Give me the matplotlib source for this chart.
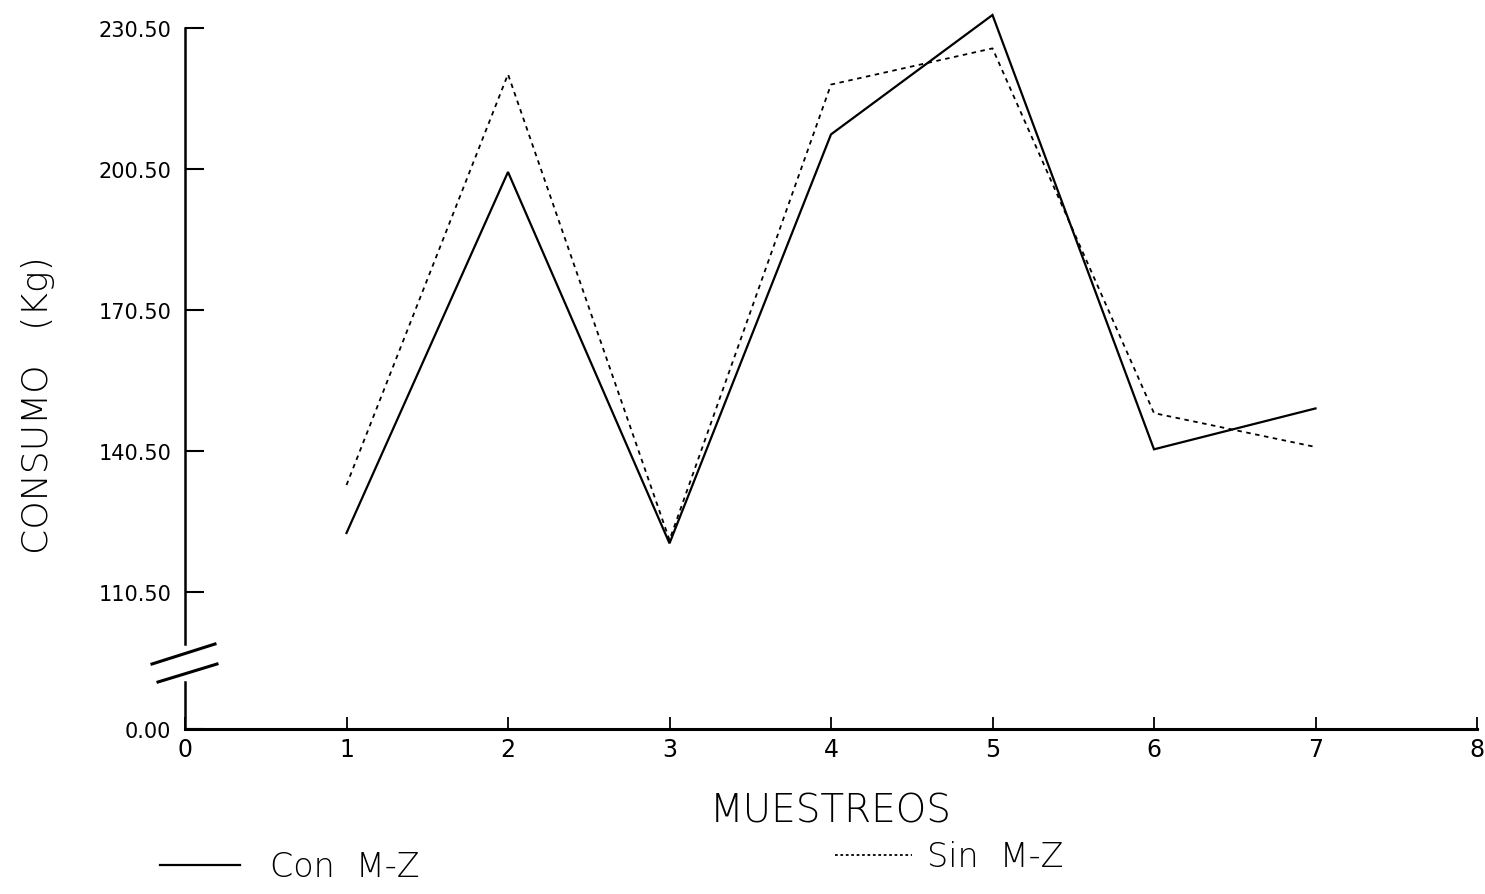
import numpy as np
import matplotlib
matplotlib.use("Agg")
import matplotlib.pyplot as plt
from matplotlib.lines import Line2D

# ---- data ----
muestreos = [1, 2, 3, 4, 5, 6, 7]
con_mz = [123.1, 199.9, 120.9, 207.9, 233.3, 140.9, 149.6]
sin_mz = [133.3, 220.7, 121.6, 218.5, 226.2, 148.6, 141.4]
ytick_vals = [0.0, 110.5, 140.5, 170.5, 200.5, 230.5]
ytick_labels = ["0.00", "110.50", "140.50", "170.50", "200.50", "230.50"]
xtick_vals = [0, 1, 2, 3, 4, 5, 6, 7, 8]
xtick_labels = ["0", "1", "2", "3", "4", "5", "6", "7", "8"]

# broken-axis scale: 0..110.5 compressed
BRK = 110.5
LOW = 29.1


def fwd(y):
    y = np.asarray(y, dtype=float)
    return np.where(y >= BRK, y - BRK + LOW, y * LOW / BRK)


def inv(g):
    g = np.asarray(g, dtype=float)
    return np.where(g >= LOW, g - LOW + BRK, g * BRK / LOW)


W, H = 1485, 895
fig = plt.figure(figsize=(W / 100, H / 100), dpi=100)
x0, x1 = 185, 1477
ytop, ybot = 8, 730
ax = fig.add_axes([x0 / W, 1 - ybot / H, (x1 - x0) / W, (ybot - ytop) / H])
ax.set_yscale("function", functions=(fwd, inv))
ax.set_xlim(0, 8)
ax.set_ylim(0, 235.0)

ax.plot(muestreos, con_mz, color="black", lw=1.6, solid_joinstyle="miter", clip_on=False)
ax.plot(muestreos, sin_mz, color="black", lw=1.3, linestyle=(0, (2.5, 2.5)), clip_on=False)

for s in ["top", "right", "left"]:
    ax.spines[s].set_visible(False)
ax.spines["bottom"].set_linewidth(2.2)

# left axis with break
ax.plot([0, 0], [0, 38], color="black", lw=1.8, clip_on=False)
ax.plot([0, 0], [69, 230.5], color="black", lw=1.8, clip_on=False)


def ax_pt(px, py):
    return ((px - x0) / (x1 - x0), (ybot - py) / (ybot - ytop))


for (pa, pb) in [((152, 665), (215, 645)), ((158, 683), (217, 665))]:
    a = ax_pt(*pa)
    b = ax_pt(*pb)
    ax.add_line(Line2D([a[0], b[0]], [a[1], b[1]], transform=ax.transAxes,
                       color="black", lw=2.2, clip_on=False))

ax.set_yticks(ytick_vals)
ax.set_yticklabels(ytick_labels)
ax.set_xticks(xtick_vals)
ax.set_xticklabels(xtick_labels)
ax.tick_params(axis="y", direction="in", length=14, width=1.5, pad=10, labelsize=15)
ax.tick_params(axis="x", direction="in", length=9, width=1.3, pad=6, labelsize=17)
ax.minorticks_off()

ax.set_xlabel("MUESTREOS", fontsize=28, fontweight="light", labelpad=22)
fig.text(38 / W, 1 - 405 / H, "CONSUMO   (Kg)", rotation=90, fontsize=26,
         fontweight="light", ha="center", va="center")

# legend entries
h1 = Line2D([], [], color="black", lw=1.6)
h2 = Line2D([], [], color="black", lw=1.3, linestyle=(0, (1.5, 1.5)))
leg1 = fig.legend([h1], ["Con  M-Z"], loc="center left", bbox_to_anchor=(130 / W, 1 - 868 / H),
                  frameon=False, handlelength=2.4, handletextpad=0.9,
                  prop={"weight": "light", "size": 24})
leg2 = fig.legend([h2], ["Sin  M-Z"], loc="center left", bbox_to_anchor=(805 / W, 1 - 858 / H),
                  frameon=False, handlelength=2.3, handletextpad=0.45,
                  prop={"weight": "light", "size": 24})

fig.savefig("out.png", dpi=100)
